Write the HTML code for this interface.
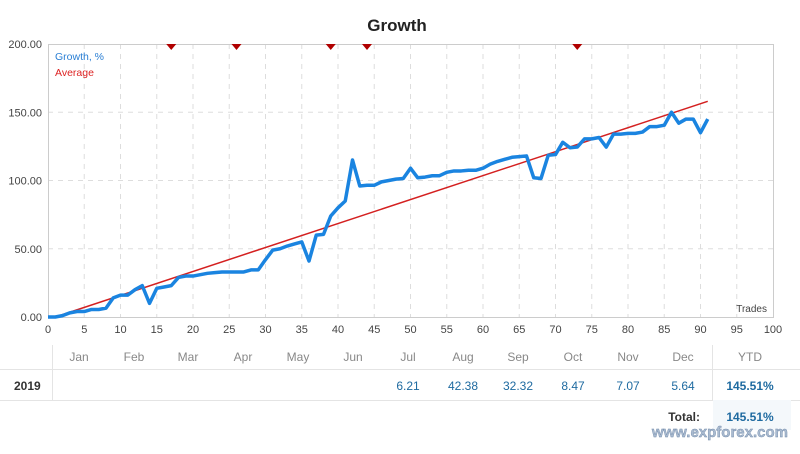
<!DOCTYPE html>
<html><head><meta charset="utf-8"><style>
body{margin:0;background:#fff;width:800px;height:449px;overflow:hidden;font-family:"Liberation Sans",sans-serif;}
</style></head><body>
<svg width="800" height="449" xmlns="http://www.w3.org/2000/svg" font-family="Liberation Sans, sans-serif">
<text x="397" y="31" text-anchor="middle" font-size="17" font-weight="bold" fill="#222">Growth</text>
<g id="grid" stroke="#ddd" stroke-dasharray="5,5" stroke-width="1"></g>
<rect x="48.5" y="44.5" width="725" height="273" fill="none" stroke="#ccc"/>
<g id="yl" font-size="11" fill="#444" text-anchor="end"></g>
<g id="xl" font-size="11" fill="#444" text-anchor="middle"></g>
<text x="767" y="312" font-size="10" fill="#444" text-anchor="end">Trades</text>
<text x="55" y="60" font-size="10.5" fill="#2a7fd4">Growth, %</text>
<text x="55" y="76" font-size="10.5" fill="#d22">Average</text>
<polyline id="avg" fill="none" stroke="#d42020" stroke-width="1.5"/>
<polyline id="gr" fill="none" stroke="#1a84e0" stroke-width="3.5" stroke-linejoin="round"/>
<g id="mk" fill="#b00000"></g>
<g font-size="12" fill="#888" text-anchor="middle">
<text x="79" y="361">Jan</text><text x="134" y="361">Feb</text><text x="188" y="361">Mar</text><text x="243" y="361">Apr</text><text x="298" y="361">May</text><text x="353" y="361">Jun</text><text x="408" y="361">Jul</text><text x="463" y="361">Aug</text><text x="518" y="361">Sep</text><text x="573" y="361">Oct</text><text x="628" y="361">Nov</text><text x="683" y="361">Dec</text><text x="750" y="361">YTD</text>
</g>
<line x1="0" y1="369.5" x2="800" y2="369.5" stroke="#e4e4e4"/>
<line x1="0" y1="400.5" x2="800" y2="400.5" stroke="#e4e4e4"/>
<line x1="52.5" y1="345" x2="52.5" y2="400" stroke="#e4e4e4"/>
<line x1="712.5" y1="345" x2="712.5" y2="400" stroke="#e4e4e4"/>
<rect x="713" y="400" width="78" height="30" fill="#f4f8fb"/>
<text x="14" y="390" font-size="12" font-weight="bold" fill="#333">2019</text>
<g font-size="12" fill="#1e6aa0" text-anchor="middle">
<text x="408" y="390">6.21</text><text x="463" y="390">42.38</text><text x="518" y="390">32.32</text><text x="573" y="390">8.47</text><text x="628" y="390">7.07</text><text x="683" y="390">5.64</text>
<text x="750" y="390" font-weight="bold">145.51%</text>
<text x="750" y="421" font-weight="bold">145.51%</text>
</g>
<text x="700" y="421" font-size="12" font-weight="bold" fill="#333" text-anchor="end">Total:</text>
<text x="788" y="437" font-size="15" fill="#aabbd0" stroke="#6f88a8" stroke-width="0.4" text-anchor="end" font-weight="bold">www.expforex.com</text>
</svg>
<script>
const X=v=>48+v*7.25,Y=v=>317-v*1.365;
const ns="http://www.w3.org/2000/svg";
function el(p,t,a,txt){const e=document.createElementNS(ns,t);for(const k in a)e.setAttribute(k,a[k]);if(txt!==undefined)e.textContent=txt;document.getElementById(p).appendChild(e);}
for(let i=5;i<100;i+=5)el("grid","line",{x1:X(i),x2:X(i),y1:44,y2:317});
for(let v=50;v<200;v+=50)el("grid","line",{x1:48,x2:773,y1:Y(v),y2:Y(v)});
for(let v=0;v<=200;v+=50)el("yl","text",{x:42,y:Y(v)+4},v.toFixed(2));
for(let i=0;i<=100;i+=5)el("xl","text",{x:X(i),y:333},i);
const d=[0,0,1,3,4,4,5.5,5.5,6.5,14,16,16,20,23,10,21,22,23,29,30,30,31,32,32.5,33,33,33,33,34.5,34.5,42,49,50,52,53.5,55,41,60,60.5,74,80,85,115,96,96.5,96.5,99,100,101,101.5,109,102,102.5,103.5,103.5,106,107,107,107.5,107.5,109,112,114,115.5,117,117.5,118,102,101.5,118.5,119,128,124,124.5,130.5,130.5,131.5,124.5,134,134,134.5,134.5,135.5,139.5,139.5,140.5,150,142,145,145,135,145];
document.getElementById("gr").setAttribute("points",d.map((v,i)=>X(i)+","+Y(v)).join(" "));
document.getElementById("avg").setAttribute("points",X(1)+","+Y(0)+" "+X(91)+","+Y(158));
[17,26,39,44,73].forEach(i=>el("mk","polygon",{points:`${X(i)-5},44 ${X(i)+5},44 ${X(i)},50`}));
</script>
</body></html>
